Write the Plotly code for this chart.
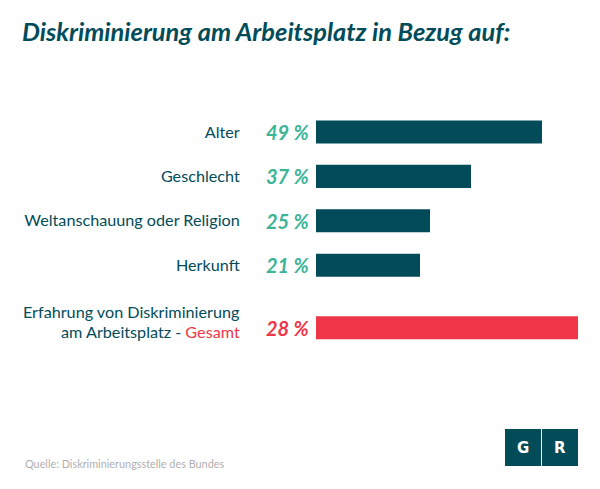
import plotly.graph_objects as go

categories = ["Alter", "Geschlecht", "Weltanschauung oder Religion", "Herkunft", ""]
total_label_lines = ["Erfahrung von Diskriminierung",
                     "am Arbeitsplatz - <span style='color:#ee3648'>Gesamt</span>"]
percent_labels = ["49 %", "37 %", "25 %", "21 %", "28 %"]
# Bar lengths as drawn in the picture (not proportional to the printed percentages)
bar_lengths = [226, 155, 114, 104, 262]
rows = [0, 1, 2, 3, 4.41]
bar_colors = ["#024c5a"] * 4 + ["#ee3648"]
label_colors = ["#3cb496"] * 4 + ["#ee3648"]

W, H = 600, 489
L, R, T, B = 316, 22, 110, 139
FONT = "Lato"
DARK = "#024c5a"
LABEL_SIZE = 16.2


def px(x):
    return (x - L) / (W - L - R)


def py(y):
    return 1 - (y - T) / (H - T - B)


fig = go.Figure(go.Bar(
    y=rows, x=bar_lengths, orientation="h", width=0.52,
    marker=dict(color=bar_colors, line_width=0), hoverinfo="skip",
))

annotations = [
    dict(x=0, y=r, xref="x", yref="y", text=t, showarrow=False, xanchor="right", xshift=-5,
         font=dict(family=FONT, size=20, color=c, style="italic", weight=700))
    for r, t, c in zip(rows, percent_labels, label_colors)
]
annotations += [
    dict(x=px(242), y=py(yc), xref="paper", yref="paper", xanchor="right", yanchor="middle",
         showarrow=False, text=line, font=dict(family=FONT, size=LABEL_SIZE, color=DARK))
    for yc, line in zip([311, 331], total_label_lines)
]
annotations += [
    dict(x=px(20), y=py(31), xref="paper", yref="paper", xanchor="left", yanchor="middle", showarrow=False,
         text="Diskriminierung am Arbeitsplatz in Bezug auf:",
         font=dict(family=FONT, size=25.4, color=DARK, style="italic", weight=700)),
    dict(x=px(23), y=py(463), xref="paper", yref="paper", xanchor="left", yanchor="middle", showarrow=False,
         text="Quelle: Diskriminierungsstelle des Bundes",
         font=dict(family=FONT, size=10.85, color="#b0b0b0")),
    dict(x=px(523), y=py(447.5), xref="paper", yref="paper", xanchor="center", yanchor="middle",
         showarrow=False, text="G",
         font=dict(family="DejaVu Sans", size=15, color="white", weight=700)),
    dict(x=px(560), y=py(447.5), xref="paper", yref="paper", xanchor="center", yanchor="middle",
         showarrow=False, text="R",
         font=dict(family="DejaVu Sans", size=15, color="white", weight=700)),
]
shapes = [
    dict(type="rect", xref="paper", yref="paper", x0=px(505), x1=px(541), y0=py(429), y1=py(466),
         fillcolor=DARK, line_width=0),
    dict(type="rect", xref="paper", yref="paper", x0=px(542), x1=px(578), y0=py(429), y1=py(466),
         fillcolor=DARK, line_width=0),
]

fig.update_layout(
    width=W, height=H, margin=dict(l=L, r=R, t=T, b=B, autoexpand=False),
    paper_bgcolor="white", plot_bgcolor="white", showlegend=False,
    annotations=annotations, shapes=shapes,
    xaxis=dict(range=[0, 262], visible=False, fixedrange=True),
    yaxis=dict(range=[4.91, -0.495], tickmode="array", tickvals=rows, ticktext=categories,
               ticks="outside", ticklen=72, tickcolor="rgba(0,0,0,0)", showgrid=False,
               zeroline=False, showline=False, fixedrange=True,
               tickfont=dict(family=FONT, size=LABEL_SIZE, color=DARK)),
)
fig.write_html("out.html", config={"displayModeBar": False},
               post_script="document.body.style.margin='0';")
